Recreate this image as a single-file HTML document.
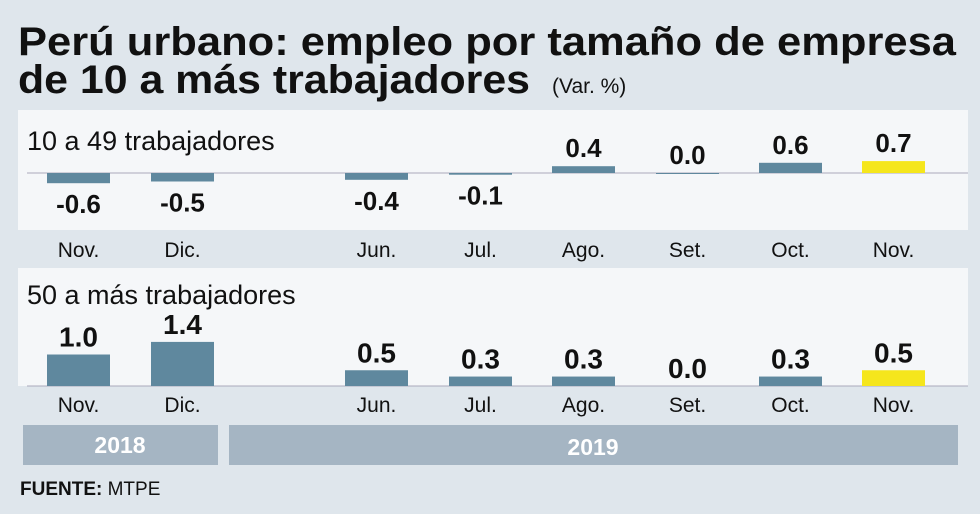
<!DOCTYPE html>
<html><head><meta charset="utf-8"><style>
body{margin:0;width:980px;height:509px;background:#dfe6ec;overflow:hidden;font-family:"Liberation Sans",sans-serif}
</style></head><body>
<svg width="980" height="509" xmlns="http://www.w3.org/2000/svg">
<text x="18" y="55" font-size="40" font-weight="bold" fill="#111" textLength="938" lengthAdjust="spacingAndGlyphs">Perú urbano: empleo por tamaño de empresa</text>
<text x="18" y="93" font-size="40" font-weight="bold" fill="#111" textLength="512" lengthAdjust="spacingAndGlyphs">de 10 a más trabajadores</text>
<text x="552" y="93" font-size="21" fill="#111">(Var. %)</text>
<rect x="18" y="110" width="950" height="120" fill="#f5f7f9"/>
<rect x="18" y="268" width="950" height="118" fill="#f5f7f9"/>
<text x="27" y="150" font-size="27" fill="#111">10 a 49 trabajadores</text>
<text x="27" y="304" font-size="27" fill="#111">50 a más trabajadores</text>
<line x1="27" y1="173" x2="968" y2="173" stroke="#aab" stroke-width="1"/>
<line x1="27" y1="386" x2="968" y2="386" stroke="#aab" stroke-width="1"/>
<g id="g"></g>
<rect x="23" y="425" width="195" height="40" fill="#a5b5c3"/>
<rect x="229" y="425" width="729" height="40" fill="#a5b5c3"/>
<text x="120" y="453" font-size="23" font-weight="bold" fill="#fff" text-anchor="middle">2018</text>
<text x="593" y="455" font-size="23" font-weight="bold" fill="#fff" text-anchor="middle">2019</text>
<text x="20" y="495" font-size="19" fill="#111"><tspan font-weight="bold">FUENTE:</tspan> MTPE</text>
</svg>
<script>
const categories=["Nov.","Dic.","Jun.","Jul.","Ago.","Set.","Oct.","Nov."];
const small=[-0.6,-0.5,-0.4,-0.1,0.4,0.0,0.6,0.7];
const large=[1.0,1.4,0.5,0.3,0.3,0.0,0.3,0.5];
const labelsSmall=["-0.6","-0.5","-0.4","-0.1","0.4","0.0","0.6","0.7"];
const labelsLarge=["1.0","1.4","0.5","0.3","0.3","0.0","0.3","0.5"];
const xs=[47,151,345,449,552,656,759,862];
const bw=63;
const ySmall=v=>173-v*17;
const yLarge=v=>386-v*31.5;
const ns="http://www.w3.org/2000/svg",g=document.getElementById('g');
function mk(t,a){const e=document.createElementNS(ns,t);for(const k in a)e.setAttribute(k,a[k]);g.appendChild(e);return e;}
categories.forEach((c,i)=>{
  const x=xs[i],cx=x+bw/2,col=i==7?"#f5e61c":"#5f889e";
  let v=small[i],y0=ySmall(0),y1=ySmall(v);
  let r=mk('rect',{x:x,y:Math.min(y0,y1),width:bw,height:Math.max(Math.abs(y1-y0),1),fill:col});
  
  
  let t=mk('text',{x:cx,y:v<0?y1+30:y1-9,"font-size":26,"font-weight":"bold","text-anchor":"middle",fill:"#111"});
  t.textContent=labelsSmall[i];
  
  
  let l=mk('text',{x:cx,y:257,"font-size":21,"text-anchor":"middle",fill:"#111"});l.textContent=c;
  
  
  v=large[i];y0=yLarge(0);y1=yLarge(v);
  r=mk('rect',{x:x,y:y1,width:bw,height:Math.max(y0-y1,v==0?0:1),fill:col});
  
  
  t=mk('text',{x:cx,y:y1-8,"font-size":28,"font-weight":"bold","text-anchor":"middle",fill:"#111"});
  t.textContent=labelsLarge[i];
  
  
  l=mk('text',{x:cx,y:412,"font-size":21,"text-anchor":"middle",fill:"#111"});l.textContent=c;
  
  
});
</script>
</body></html>
